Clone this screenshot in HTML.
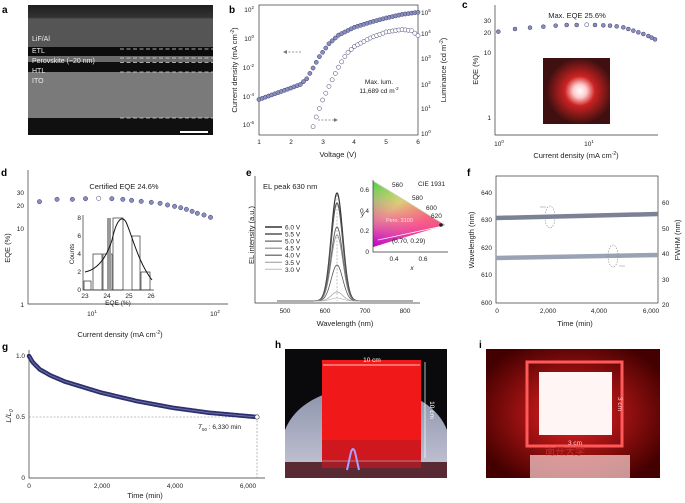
<!DOCTYPE html>
<html><head><meta charset="utf-8">
<style>
html,body{margin:0;padding:0;background:#fff;overflow:hidden;width:685px;height:503px;}
svg{display:block;font-family:"Liberation Sans",sans-serif;}
.t{font-size:7.5px;fill:#222;}
.s{font-size:6.5px;fill:#222;}
.lb{font-size:10px;font-weight:bold;fill:#000;}
.ax{stroke:#333;stroke-width:0.7;fill:none;}
</style></head><body>
<svg id="S" width="685" height="503" viewBox="0 0 685 503" xmlns="http://www.w3.org/2000/svg">
<defs>
<clipPath id="ch"><rect x="285" y="349" width="162" height="129"/></clipPath>
<clipPath id="ci"><rect x="486" y="349" width="174" height="129"/></clipPath>
<linearGradient id="ga" x1="0" y1="0" x2="0" y2="1">
<stop offset="0" stop-color="#1e1e1e"/><stop offset="0.3" stop-color="#333"/><stop offset="0.33" stop-color="#555"/><stop offset="1" stop-color="#555"/>
</linearGradient>
<linearGradient id="cie1" x1="0" y1="0" x2="1" y2="1">
<stop offset="0" stop-color="#3c3"/><stop offset="0.35" stop-color="#cd4"/><stop offset="0.65" stop-color="#e44"/><stop offset="1" stop-color="#c03"/>
</linearGradient>
<linearGradient id="cie2" x1="0" y1="1" x2="0.3" y2="0">
<stop offset="0" stop-color="#b0c" stop-opacity="1"/><stop offset="0.5" stop-color="#f6b" stop-opacity="0.6"/><stop offset="1" stop-color="#fff" stop-opacity="0"/>
</linearGradient>
<radialGradient id="glow" cx="0.55" cy="0.5" r="0.5">
<stop offset="0" stop-color="#fff"/><stop offset="0.2" stop-color="#fcc"/><stop offset="0.45" stop-color="#c22"/><stop offset="1" stop-color="#401010"/>
</radialGradient>
<linearGradient id="dome" x1="0" y1="0" x2="0" y2="1">
<stop offset="0" stop-color="#8890a8"/><stop offset="1" stop-color="#c8c8d8"/>
</linearGradient>
<radialGradient id="iglow" cx="0.5" cy="0.5" r="0.6">
<stop offset="0" stop-color="#e22"/><stop offset="1" stop-color="#400"/>
</radialGradient>
</defs>

<!-- Panel a -->
<text class="lb" x="2" y="13">a</text>
<rect x="28" y="5" width="185" height="130" fill="#1a1a1a"/>
<rect x="28" y="5" width="185" height="42" fill="url(#ga)"/>
<rect x="28" y="47" width="185" height="9" fill="#0c0c0c"/>
<rect x="28" y="56" width="185" height="6" fill="#6a6a6a"/>
<rect x="28" y="62" width="185" height="10" fill="#0e0e0e"/>
<rect x="28" y="72" width="185" height="46" fill="#7a7a7a"/>
<rect x="28" y="118" width="185" height="17" fill="#101010"/>
<g stroke="#ddd" stroke-width="0.8" stroke-dasharray="4,2.5">
<line x1="120" y1="49" x2="213" y2="49"/><line x1="120" y1="58" x2="213" y2="58"/><line x1="120" y1="62.5" x2="213" y2="62.5"/><line x1="120" y1="72" x2="213" y2="72"/><line x1="120" y1="118" x2="213" y2="118"/>
</g>
<g font-size="7" fill="#eee"><text x="32" y="41">LiF/Al</text><text x="32" y="53">ETL</text><text x="32" y="63">Perovskite (~20 nm)</text><text x="32" y="73">HTL</text><text x="32" y="83">ITO</text></g>
<rect x="180" y="131" width="28" height="2" fill="#fff"/>

<!-- Panel b -->
<text class="lb" x="229" y="13">b</text>
<rect class="ax" x="259" y="5" width="159" height="130"/>
<g class="s" text-anchor="end">
<text x="254" y="12">10<tspan font-size="4.5" dy="-3">2</tspan></text>
<text x="254" y="41">10<tspan font-size="4.5" dy="-3">0</tspan></text>
<text x="254" y="70">10<tspan font-size="4.5" dy="-3">-2</tspan></text>
<text x="254" y="99">10<tspan font-size="4.5" dy="-3">-4</tspan></text>
<text x="254" y="127">10<tspan font-size="4.5" dy="-3">-6</tspan></text>
</g>
<g class="s"><text x="421" y="15">10<tspan font-size="4.5" dy="-3">5</tspan></text><text x="421" y="36">10<tspan font-size="4.5" dy="-3">4</tspan></text><text x="421" y="61">10<tspan font-size="4.5" dy="-3">3</tspan></text><text x="421" y="87">10<tspan font-size="4.5" dy="-3">2</tspan></text><text x="421" y="111">10<tspan font-size="4.5" dy="-3">1</tspan></text><text x="421" y="136">10<tspan font-size="4.5" dy="-3">0</tspan></text></g>
<g class="s" text-anchor="middle"><text x="259" y="144">1</text><text x="291" y="144">2</text><text x="323" y="144">3</text><text x="354" y="144">4</text><text x="386" y="144">5</text><text x="418" y="144">6</text></g>
<text class="t" x="338" y="157" text-anchor="middle">Voltage (V)</text>
<text class="t" transform="translate(237,70) rotate(-90)" text-anchor="middle">Current density (mA cm<tspan font-size="5" dy="-3">-2</tspan><tspan dy="3">)</tspan></text>
<text class="t" transform="translate(446,70) rotate(-90)" text-anchor="middle">Luminance (cd m<tspan font-size="5" dy="-3">-2</tspan><tspan dy="3">)</tspan></text>
<text class="s" x="379" y="84" text-anchor="middle">Max. lum.</text>
<text class="s" x="379" y="93" text-anchor="middle">11,689 cd m<tspan font-size="4.5" dy="-3">-2</tspan></text>
<g stroke="#777" stroke-width="0.7" stroke-dasharray="2,1.5"><line x1="285" y1="52" x2="302" y2="52"/><line x1="318" y1="120" x2="336" y2="120"/></g>
<path d="M283,52 l4,-2 v4z M338,120 l-4,-2 v4z" fill="#777"/>
<g id="bJ"></g><g id="bL"></g>

<!-- Panel c -->
<text class="lb" x="462" y="8">c</text>
<path class="ax" d="M495,5 V135 H658"/>
<g class="s" text-anchor="end"><text x="491" y="23">30</text><text x="491" y="35">20</text><text x="491" y="55">10</text><text x="491" y="120">1</text></g>
<g class="s" text-anchor="middle"><text x="499" y="146">10<tspan font-size="4.5" dy="-3">0</tspan></text><text x="589" y="146">10<tspan font-size="4.5" dy="-3">1</tspan></text></g>
<text class="t" x="576" y="158" text-anchor="middle">Current density (mA cm<tspan font-size="5" dy="-3">-2</tspan><tspan dy="3">)</tspan></text>
<text class="t" transform="translate(478,70) rotate(-90)" text-anchor="middle">EQE (%)</text>
<text class="t" x="577" y="18" text-anchor="middle" fill="#335">Max. EQE 25.6%</text>
<rect x="543" y="58" width="67" height="66" fill="url(#glow)"/>
<g id="cP"></g>

<!-- Panel d -->
<text class="lb" x="1" y="176">d</text>
<path class="ax" d="M28,170 V304 H228"/>
<g class="s" text-anchor="end"><text x="24" y="195">30</text><text x="24" y="208">20</text><text x="24" y="231">10</text><text x="24" y="307">1</text></g>
<g class="s" text-anchor="middle"><text x="92" y="316">10<tspan font-size="4.5" dy="-3">1</tspan></text><text x="215" y="316">10<tspan font-size="4.5" dy="-3">2</tspan></text></g>
<text class="t" x="120" y="337" text-anchor="middle">Current density (mA cm<tspan font-size="5" dy="-3">-2</tspan><tspan dy="3">)</tspan></text>
<text class="t" transform="translate(10,248) rotate(-90)" text-anchor="middle">EQE (%)</text>
<text class="t" x="124" y="189" text-anchor="middle" fill="#335">Certified EQE 24.6%</text>
<g id="dP"></g>
<path class="ax" d="M83,215 V290 H154"/>
<g class="s" font-size="6" text-anchor="end"><text x="81" y="220">8</text><text x="81" y="238">6</text><text x="81" y="256">4</text><text x="81" y="274">2</text><text x="81" y="292">0</text></g>
<g class="s" font-size="6" text-anchor="middle"><text x="85" y="298">23</text><text x="107" y="298">24</text><text x="129" y="298">25</text><text x="151" y="298">26</text></g>
<text class="s" font-size="6" x="118" y="305" text-anchor="middle">EQE (%)</text>
<text class="s" font-size="6" transform="translate(74,254) rotate(-90)" text-anchor="middle">Counts</text>
<g fill="none" stroke="#333" stroke-width="0.7">
<rect x="84" y="281" width="7" height="9"/><rect x="93" y="254" width="9" height="36"/><rect x="103" y="254" width="9" height="36"/><rect x="113" y="218" width="10" height="72"/><rect x="132" y="236" width="8" height="54"/><rect x="141" y="272" width="9" height="18"/>
</g>
<rect x="107" y="218" width="4" height="72" fill="#999"/>
<path d="M85,272 C95,270 105,262 112,240 C116,222 121,214 126,222 C132,235 138,262 152,280" fill="none" stroke="#111" stroke-width="1"/>

<!-- Panel e -->
<text class="lb" x="246" y="176">e</text>
<path class="ax" d="M255,176 V303 H420"/>
<g class="s" text-anchor="middle"><text x="285" y="313">500</text><text x="325" y="313">600</text><text x="365" y="313">700</text><text x="405" y="313">800</text></g>
<text class="t" x="345" y="326" text-anchor="middle">Wavelength (nm)</text>
<text class="t" transform="translate(254,235) rotate(-90)" text-anchor="middle">EL intensity (a.u.)</text>
<text class="t" x="263" y="189">EL peak 630 nm</text>
<line x1="337" y1="195" x2="337" y2="301" stroke="#888" stroke-width="0.5" stroke-dasharray="2,1.5"/>
<g id="eS"></g>
<g id="eL" class="s" font-size="7"></g>
<path d="M373,181 L445,225 L373,247 Z" fill="url(#cie1)"/>
<path d="M373,181 L445,225 L373,247 Z" fill="url(#cie2)"/>
<path d="M373,181 L445,225" stroke="#ccb" stroke-width="0.8"/>
<line x1="378" y1="240" x2="443" y2="226" stroke="#fff" stroke-width="0.8"/>
<circle cx="441" cy="225" r="1.8" fill="#222"/>
<path class="ax" d="M373,180 V252 H448"/>
<g class="s" font-size="6" text-anchor="end"><text x="369" y="192">0.6</text><text x="369" y="213">0.4</text><text x="369" y="233">0.2</text><text x="369" y="254">0</text></g>
<g class="s" font-size="6" text-anchor="middle"><text x="394" y="261">0.4</text><text x="423" y="261">0.6</text><text x="412" y="270" font-style="italic">x</text></g>
<text class="s" font-size="6" x="361" y="216" font-style="italic">y</text>
<g class="s" font-size="5.5"><text x="392" y="187">560</text><text x="412" y="200">580</text><text x="426" y="210">600</text><text x="431" y="218">620</text><text x="418" y="186">CIE 1931</text><text x="392" y="243">(0.70, 0.29)</text></g>
<text font-size="5.5" x="386" y="222" fill="#fde">Pero. 3100</text>

<!-- Panel f -->
<text class="lb" x="467" y="176">f</text>
<rect class="ax" x="496" y="176" width="162" height="127"/>
<g class="s" text-anchor="end"><text x="492" y="195">640</text><text x="492" y="222">630</text><text x="492" y="250">620</text><text x="492" y="277">610</text><text x="492" y="305">600</text></g>
<g class="s"><text x="662" y="205">60</text><text x="662" y="231">50</text><text x="662" y="256">40</text><text x="662" y="282">30</text><text x="662" y="307">20</text></g>
<g class="s" text-anchor="middle"><text x="497" y="313">0</text><text x="548" y="313">2,000</text><text x="599" y="313">4,000</text><text x="651" y="313">6,000</text></g>
<text class="t" x="575" y="326" text-anchor="middle">Time (min)</text>
<text class="t" transform="translate(474,240) rotate(-90)" text-anchor="middle">Wavelength (nm)</text>
<text class="t" transform="translate(680,240) rotate(-90)" text-anchor="middle">FWHM (nm)</text>
<line x1="496" y1="218" x2="658" y2="214" stroke="#7a8294" stroke-width="4.5"/>
<line x1="496" y1="258" x2="658" y2="255" stroke="#9aa2b4" stroke-width="4.5"/>
<g fill="none" stroke="#888" stroke-width="0.6" stroke-dasharray="1.5,1.2">
<ellipse cx="550" cy="217" rx="5" ry="11"/><ellipse cx="613" cy="256" rx="5" ry="11"/>
</g>
<path d="M540,207 h6 M619,266 h6" stroke="#888" stroke-width="0.6"/>

<!-- Panel g -->
<text class="lb" x="2" y="350">g</text>
<path class="ax" d="M29,350 V478 H265"/>
<g class="s" text-anchor="end"><text x="25" y="358">1.0</text><text x="25" y="419">0.5</text><text x="25" y="480">0</text></g>
<g class="s" text-anchor="middle"><text x="29" y="488">0</text><text x="102" y="488">2,000</text><text x="175" y="488">4,000</text><text x="248" y="488">6,000</text></g>
<text class="t" x="145" y="498" text-anchor="middle">Time (min)</text>
<text class="t" transform="translate(11,416) rotate(-90)" text-anchor="middle" font-style="italic">L/L<tspan font-size="5" dy="2">0</tspan></text>
<g stroke="#888" stroke-width="0.6" stroke-dasharray="2,1.5"><line x1="29" y1="417" x2="257" y2="417"/><line x1="257" y1="417" x2="257" y2="478"/></g>
<path id="gC" fill="none" stroke="#2c2f6e" stroke-width="4.5" stroke-linecap="round"/>
<path id="gC2" fill="none" stroke="#6b70a8" stroke-width="1"/>
<circle cx="257" cy="417" r="2.2" fill="#fff" stroke="#333" stroke-width="0.6"/>
<text class="s" x="198" y="429"><tspan font-style="italic">T</tspan><tspan font-size="4.5" dy="2">50</tspan><tspan dy="-2"> : 6,330 min</tspan></text>

<!-- Panel h -->
<text class="lb" x="275" y="348">h</text>
<g clip-path="url(#ch)">
<rect x="285" y="349" width="162" height="129" fill="#0a0a0c"/>
<path d="M285,478 V430 Q300,392 366,385 Q432,392 447,430 V478 Z" fill="url(#dome)"/>
<rect x="285" y="462" width="162" height="16" fill="#5a2a34"/>
<rect x="322" y="360" width="99" height="100" fill="#f01818"/>
<rect x="322" y="440" width="99" height="28" fill="#c01820" opacity="0.7"/>
<path d="M347,470 L351,452 Q353,446 355,452 L359,470" fill="none" stroke="#a8a0ff" stroke-width="2"/>
<g stroke="#fff" stroke-width="0.7"><line x1="323" y1="365" x2="420" y2="365"/><line x1="425" y1="362" x2="425" y2="458"/></g>
<text font-size="6.5" fill="#fff" x="372" y="362" text-anchor="middle">10 cm</text>
<text font-size="6.5" fill="#fff" transform="translate(430,410) rotate(90)" text-anchor="middle">10 cm</text>
</g>

<!-- Panel i -->
<text class="lb" x="479" y="348">i</text>
<g clip-path="url(#ci)">
<rect x="486" y="349" width="174" height="129" fill="url(#iglow)"/>
<rect x="527" y="362" width="95" height="84" fill="none" stroke="#ff5a5a" stroke-width="3"/>
<rect x="539" y="372" width="73" height="63" fill="#fff5f5"/>
<rect x="530" y="455" width="100" height="23" fill="#f6c8c8" opacity="0.75"/>
<text font-size="6.5" fill="#fcc" x="575" y="445" text-anchor="middle">3 cm</text>
<text font-size="6.5" fill="#fcc" transform="translate(618,404) rotate(90)" text-anchor="middle">3 cm</text>
<text font-size="10" fill="#c33" x="545" y="455" opacity="0.8" font-family="'Liberation Sans','Noto Sans CJK SC',sans-serif">南开大学</text>
</g>
</svg>
<script>
var NS="http://www.w3.org/2000/svg";
function el(p,t,a){var e=document.createElementNS(NS,t);for(var k in a)e.setAttribute(k,a[k]);p.appendChild(e);return e;}
function interp(pts,x){for(var i=0;i<pts.length-1;i++){if(x<=pts[i+1][0]){var a=pts[i],b=pts[i+1];return a[1]+(b[1]-a[1])*(x-a[0])/(b[0]-a[0]);}}return pts[pts.length-1][1];}
var J=[[1,-4.3],[1.5,-3.9],[2,-3.5],[2.3,-3.25],[2.5,-2.85],[2.7,-2.1],[2.9,-1.3],[3.2,-0.4],[3.5,0.2],[4,0.75],[4.5,1.1],[5,1.4],[5.5,1.65],[6,1.8]];
var L=[[2.7,0.3],[2.8,0.7],[2.9,1.05],[3.0,1.4],[3.25,2.1],[3.5,2.75],[3.75,3.3],[4,3.6],[4.5,3.95],[5,4.2],[5.5,4.3],[5.8,4.25],[6,4.05]];
var gJ=document.getElementById('bJ'),gL=document.getElementById('bL');
for(var v=1;v<=6.001;v+=0.1){el(gJ,'circle',{cx:259+(v-1)*31.8,cy:38-14.3*interp(J,v),r:2.1,fill:'#8a8ebf',stroke:'#3a3d6b','stroke-width':0.5});}
for(var v=2.7;v<=6.001;v+=0.1){el(gL,'circle',{cx:259+(v-1)*31.8,cy:134-24.3*interp(L,v),r:2.1,fill:'#fff',stroke:'#3a3d6b','stroke-width':0.5});}
var cx=[475,525,570,610,647,680,710,740,765,790,810,830,850,865,880,895,910,925,935,945],cy=[95,87,83,80,77,75,75,74,75,76,77,79,82,87,92,97,102,108,113,118];
var gc=document.getElementById('cP');
for(var i=0;i<cx.length;i++)el(gc,'circle',{cx:340+cx[i]/3,cy:cy[i]/3,r:2,fill:i==7?'#fff':'#8a8ebf',stroke:'#3a3d6b','stroke-width':0.5});
var dx=[90,130,165,195,225,255,280,300,322,345,365,382,398,412,425,438,450,465,480],dy=[110,103,103,101,100,101,103,106,109,112,115,120,124,128,133,139,145,150,157];
var gd=document.getElementById('dP');
for(var i=0;i<dx.length;i++)el(gd,'circle',{cx:dx[i]/2.28,cy:165+dy[i]/3,r:2.2,fill:i==4?'#fff':'#8a8ebf',stroke:'#3a3d6b','stroke-width':0.5});
var H=[108,98,74,66,36,9,3],C=['#333','#555','#666','#888','#555','#999','#bbb'],W=[1.2,1.2,1,0.8,0.8,0.7,0.7],V=['6.0 V','5.5 V','5.0 V','4.5 V','4.0 V','3.5 V','3.0 V'];
var ge=document.getElementById('eS'),gl=document.getElementById('eL');
for(var k=0;k<7;k++){var d='';for(var x=277;x<=413;x+=0.5){var y=301-H[k]*Math.exp(-Math.pow((x-337)/5.8,2)/2);d+=(x==277?'M':'L')+x+','+y.toFixed(2);}
el(ge,'path',{d:d,fill:'none',stroke:C[k],'stroke-width':W[k]});
var yy=227+k*7.05;el(gl,'line',{x1:265,y1:yy,x2:282,y2:yy,stroke:C[k],'stroke-width':W[k]+0.3});
var t=el(gl,'text',{x:285,y:yy+2.5});t.textContent=V[k];}
var G=[[0,1],[100,0.95],[300,0.89],[600,0.84],[1000,0.79],[2000,0.70],[3000,0.63],[4000,0.575],[5000,0.535],[6330,0.5]];
var d='';for(var t=0;t<=6330;t+=30){d+=(t==0?'M':'L')+(29+t*0.036).toFixed(2)+','+(478-122*interp(G,t)).toFixed(2);}
document.getElementById('gC').setAttribute('d',d);document.getElementById('gC2').setAttribute('d',d);
</script>
</body></html>
